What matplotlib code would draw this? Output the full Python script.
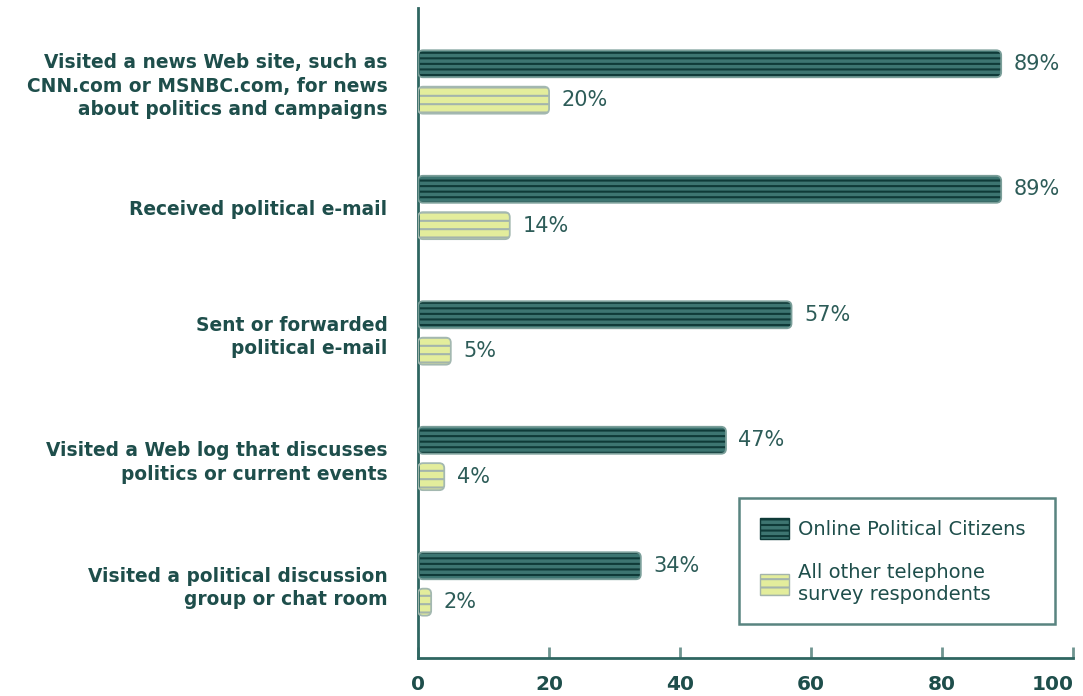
import matplotlib
matplotlib.use('Agg')
import matplotlib.pyplot as plt
import numpy as np
from matplotlib.patches import Patch, FancyBboxPatch

# 颜色
text_color = '#1e4e4b'
dark_face = '#3d7571'
dark_hatch = '#0f3a38'
dark_edge = '#7a9e99'
light_face = '#e3ed9c'
light_hatch = '#a3b4ac'
light_edge = '#a3b8b0'

categories = [
    'Visited a news Web site, such as\nCNN.com or MSNBC.com, for news\nabout politics and campaigns',
    'Received political e-mail',
    'Sent or forwarded\npolitical e-mail',
    'Visited a Web log that discusses\npolitics or current events',
    'Visited a political discussion\ngroup or chat room',
]
online_citizens = [89, 89, 57, 47, 34]
other_respondents = [20, 14, 5, 4, 2]
series_names = ['Online Political Citizens', 'All other telephone\nsurvey respondents']

plt.rcParams['hatch.linewidth'] = 1.5

fig = plt.figure(figsize=(10.83, 6.96), dpi=100)
ax = fig.add_axes([0.386, 0.0546, 0.605, 0.934])

y = np.arange(len(categories))
off = 0.145
h = 0.215

ax.set_xlim(0, 100)
ax.set_ylim(len(categories) - 1 + 0.59, -0.59)

b1 = ax.barh(y - off, online_citizens, height=h)
b2 = ax.barh(y + off, other_respondents, height=h)


def round_bars(bars, face, hatch_color, edge, hatch):
    """把矩形换成圆角条形（带横纹）"""
    # x、y 方向像素比例，用于保持圆角为圆形
    bbox = ax.get_window_extent()
    x0, x1 = ax.get_xlim()
    y1, y0 = ax.get_ylim()
    px_x = bbox.width / (x1 - x0)
    px_y = bbox.height / (y1 - y0)
    aspect = px_x / px_y
    r = 5 / px_x
    for bar in bars:
        bar.set_visible(False)
        bx, by, bw, bh = bar.get_x(), bar.get_y(), bar.get_width(), bar.get_height()
        style = f'round,pad=0,rounding_size={min(r, bw / 2):.3f}'
        ax.add_patch(FancyBboxPatch((bx, by), bw, bh, boxstyle=style,
                                    mutation_aspect=aspect, facecolor=face,
                                    edgecolor=hatch_color, hatch=hatch,
                                    linewidth=0, zorder=2))
        ax.add_patch(FancyBboxPatch((bx, by), bw, bh, boxstyle=style,
                                    mutation_aspect=aspect, facecolor='none',
                                    edgecolor=edge, linewidth=1.3, zorder=3))


round_bars(b1, dark_face, dark_hatch, dark_edge, '---')
round_bars(b2, light_face, light_hatch, light_edge, '--')

for bars, vals in [(b1, online_citizens), (b2, other_respondents)]:
    for bar, v in zip(bars, vals):
        ax.text(v + 1.9, bar.get_y() + bar.get_height() / 2, f'{v}%',
                ha='left', va='center', fontsize=15, color='#2d5c58')

ax.set_yticks(y)
ax.set_yticklabels(categories, fontsize=13.4, fontweight='bold', color=text_color,
                   ha='right', multialignment='right', linespacing=1.27)
ax.tick_params(axis='y', length=0, pad=22)

ax.set_xticks([0, 20, 40, 60, 80, 100])
ax.tick_params(axis='x', direction='in', length=8, width=2, color='#6f9590',
               labelsize=14.5, labelcolor=text_color, pad=12)
for lab in ax.get_xticklabels():
    lab.set_fontweight('bold')
ax.get_xticklabels()[-1].set_horizontalalignment('right')

for side in ['top', 'right']:
    ax.spines[side].set_visible(False)
for side in ['left', 'bottom']:
    ax.spines[side].set_color('#2f6661')
    ax.spines[side].set_linewidth(2)

handles = [Patch(facecolor=dark_face, edgecolor=dark_hatch, hatch='---'),
           Patch(facecolor=light_face, edgecolor=light_hatch, hatch='--')]
leg = ax.legend(handles, series_names, loc='lower left', mode='expand',
                bbox_to_anchor=(0.490, 0.052, 0.4825, 0.2), fontsize=14,
                frameon=True, fancybox=False, edgecolor='#2f6661',
                handlelength=1.5, handleheight=1.3, borderpad=1.05,
                labelspacing=1.2, handletextpad=0.5, borderaxespad=0)
leg.get_frame().set_linewidth(1.8)
for t in leg.get_texts():
    t.set_color(text_color)

fig.savefig('out.png', dpi=100)
